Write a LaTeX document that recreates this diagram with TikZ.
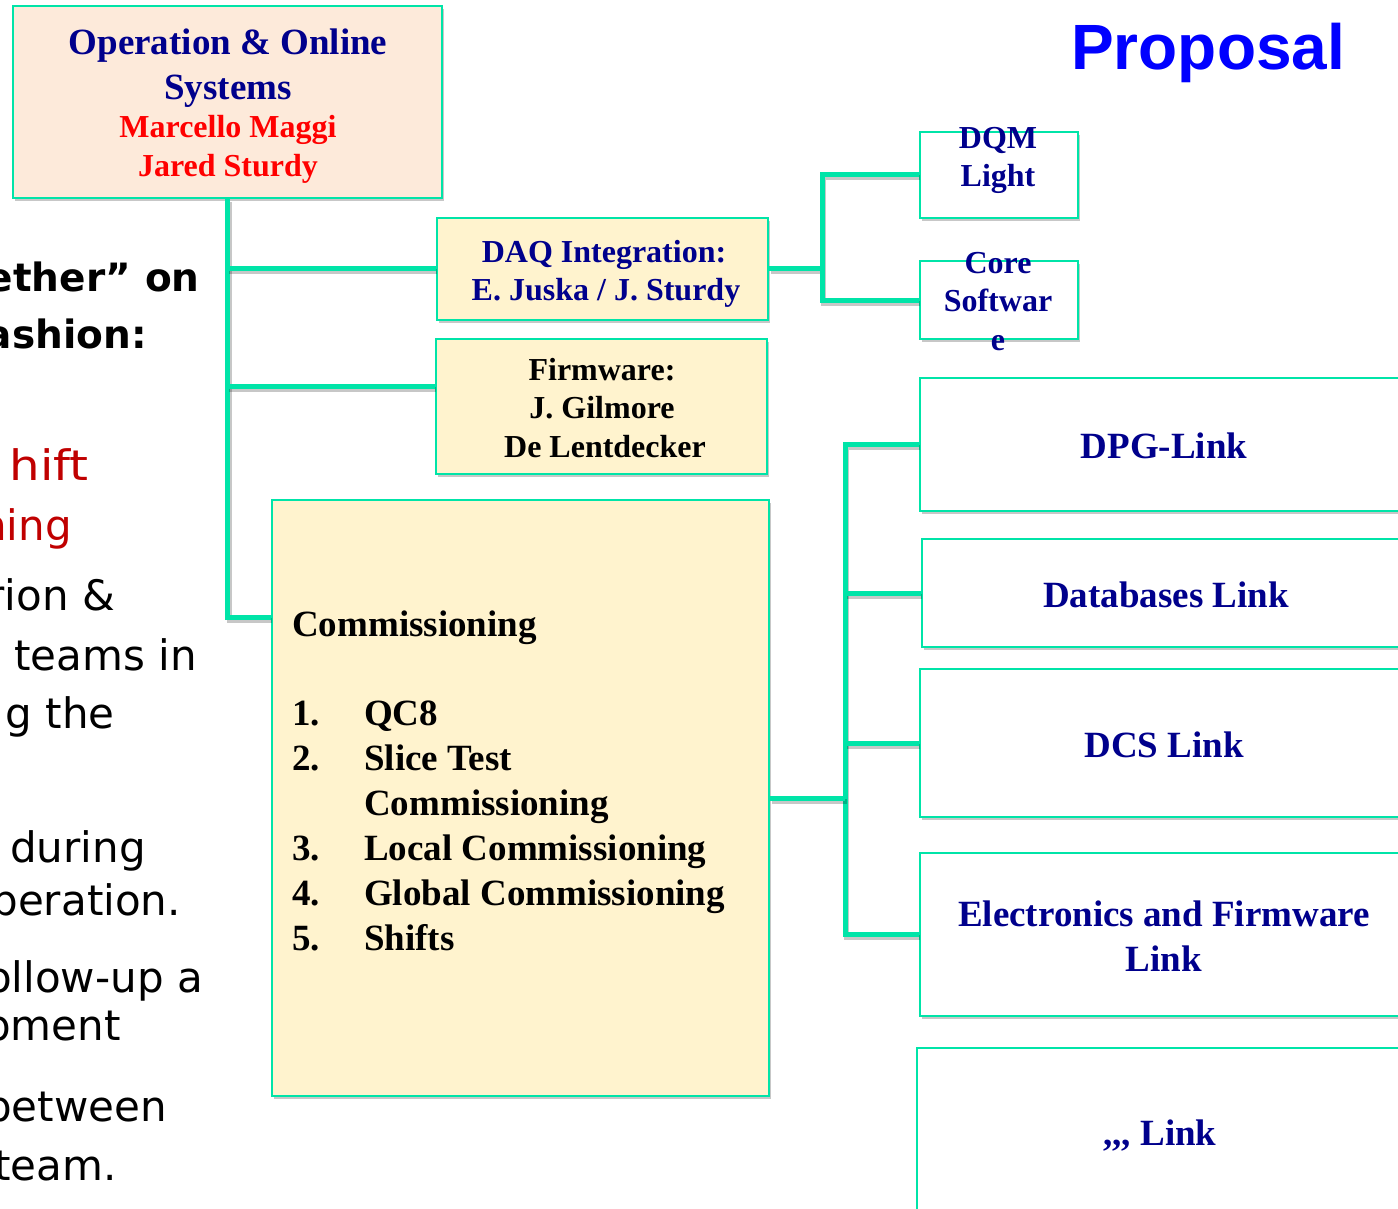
\documentclass[tikz,border=0pt]{standalone}
\usepackage{fontspec}
\setmainfont{Liberation Serif}
\newfontfamily\handfont{DejaVu Sans}
\newfontfamily\titlefont{Liberation Sans}
\usetikzlibrary{shadows,calc}
\definecolor{linec}{RGB}{0,228,168}
\definecolor{navy}{RGB}{0,0,140}
\definecolor{peach}{RGB}{253,234,218}
\definecolor{cream}{RGB}{255,243,206}
\definecolor{darkred}{RGB}{192,0,0}
\definecolor{pblue}{RGB}{0,0,255}
\tikzset{
  box/.style={draw=linec, line width=2.5pt, rectangle, inner sep=0pt,
    drop shadow={shadow xshift=2pt, shadow yshift=-3pt, opacity=0.22, fill=black}},
  conn/.style={draw=linec, line width=5pt,
    preaction={draw=black, opacity=0.22, line width=5pt,
      transform canvas={shift={(1.5pt,-3pt)}}}},
  lbl/.style={inner sep=0pt, anchor=base, font=\bfseries\fontsize{32}{38}\selectfont},
  big/.style={inner sep=0pt, anchor=base, font=\bfseries\fontsize{37}{44}\selectfont},
  bigl/.style={big, anchor=base west},
  hand/.style={inner sep=0pt, anchor=base east, font=\handfont\fontsize{42}{50}\selectfont},
  handb/.style={hand, font=\handfont\bfseries\fontsize{39}{50}\selectfont},
}
\begin{document}
\begin{tikzpicture}[x=1pt, y=-1pt]
\clip (0,0) rectangle (1398,1209);
\fill[white] (0,0) rectangle (1398,1209);

% slide text running in from the left
\node[handb] (h1) at (200,291) {ether” on};
\node[handb] (h2) at (147,348) {ashion:};
\node[hand, darkred] (h3) at (89,480) {\scalebox{1.15}[1]{hift}};
\node[hand, darkred] (h4) at (72,540) {ning};
\node[hand] (h5) at (115,610) {rion \&};
\node[hand] (h6) at (197,670) {teams in};
\node[hand] (h7) at (115,728) {g the};
\node[hand] (h8) at (146,862) {during};
\node[hand] (h9) at (181,915) {peration.};
\node[hand] (h10) at (203,992) {ollow-up a};
\node[hand] (h11) at (121,1040) {pment};
\node[hand] (h12) at (167,1121) {between};
\node[hand] (h13) at (117,1180) {team.};

% title
\node[inner sep=0pt, anchor=base west, text=pblue,
      font=\titlefont\bfseries\fontsize{64}{70}\selectfont] (title) at (1071,70) {Proposal};

% boxes
\node[box, fill=peach, minimum width=429pt, minimum height=192pt] (ops) at (227.5,102) {};
\node[box, fill=cream, minimum width=331pt, minimum height=102pt] (daq) at (602.5,269) {};
\node[box, fill=cream, minimum width=331pt, minimum height=135pt] (fw) at (601.5,406.5) {};
\node[box, fill=white, minimum width=158pt, minimum height=86pt] (dqm) at (999,175) {};
\node[box, fill=white, minimum width=158pt, minimum height=78pt] (core) at (999,300) {};
\node[box, fill=cream, minimum width=497pt, minimum height=596pt] (comm) at (520.5,798) {};
\node[box, fill=white, minimum width=488pt, minimum height=133pt] (dpg) at (1164,444.5) {};
\node[box, fill=white, minimum width=488pt, minimum height=108pt] (db) at (1166,593) {};
\node[box, fill=white, minimum width=488pt, minimum height=148pt] (dcs) at (1164,743) {};
\node[box, fill=white, minimum width=488pt, minimum height=163pt] (efl) at (1164,934.5) {};
\node[box, fill=white, minimum width=488pt, minimum height=182pt] (etc) at (1161,1139) {};

% connectors
\coordinate (commin) at ($(comm.north west)!0.198!(comm.south west)$);
\coordinate (fwin) at ($(fw.north west)!0.356!(fw.south west)$);
\coordinate (dbus) at (822,0);
\coordinate (lbus) at (845,0);
\draw[conn] (ops.south) |- (commin);
\draw[conn] (ops.south |- daq.west) -- (daq.west);
\draw[conn] (ops.south |- fwin) -- (fwin);
\draw[conn] (daq.east) -- (dbus |- daq.east);
\draw[conn] (dqm.west) -| (dbus |- core.west) -- (core.west);
\draw[conn] (dpg.west) -| (lbus |- efl.west) -- (efl.west);
\draw[conn] (db.west) -- (lbus |- db.west);
\draw[conn] (dcs.west) -- (lbus |- dcs.west);
\draw[conn] (comm.east) -- (lbus |- comm.east);

% box texts
\node[big, navy] (ops1) at (228,55) {Operation \& Online};
\node[big, navy] (ops2) at (228,100) {Systems};
\node[lbl, red] (ops3) at (228,138) {Marcello Maggi};
\node[lbl, red] (ops4) at (228,177) {Jared Sturdy};

\node[lbl, navy] (daq1) at (604,262) {DAQ Integration:};
\node[lbl, navy] (daq2) at (606,300) {E. Juska / J. Sturdy};

\node[lbl] (fw1) at (602,380) {Firmware:};
\node[lbl] (fw2) at (602,418) {J. Gilmore};
\node[lbl] (fw3) at (605,457) {De Lentdecker};

\node[lbl, navy] (dqm1) at (998,149) {DQM};
\node[lbl, navy] (dqm2) at (998,187) {Light};
\node[lbl, navy] (core1) at (998,273) {Core};
\node[lbl, navy] (core2) at (998,312) {Softwar};
\node[lbl, navy] (core3) at (998,350) {e};

\node[bigl] (c0) at (292,636) {Commissioning};
\node[bigl] (n1) at (292,725) {1.};
\node[bigl] (i1) at (364,725) {QC8};
\node[bigl] (n2) at (292,770) {2.};
\node[bigl] (i2) at (364,770) {Slice Test};
\node[bigl] (i2b) at (364,815) {Commissioning};
\node[bigl] (n3) at (292,860) {3.};
\node[bigl] (i3) at (364,860) {Local Commissioning};
\node[bigl] (n4) at (292,905) {4.};
\node[bigl] (i4) at (364,905) {Global Commissioning};
\node[bigl] (n5) at (292,950) {5.};
\node[bigl] (i5) at (364,950) {Shifts};

\node[big, navy] (dpg1) at (1164,458) {DPG-Link};
\node[big, navy] (db1) at (1166,607) {Databases Link};
\node[big, navy] (dcs1) at (1164,757) {DCS Link};
\node[big, navy] (efl1) at (1164,926) {Electronics and Firmware};
\node[big, navy] (efl2) at (1164,971) {Link};
\node[big, navy] (etc1) at (1160,1145) {{,}{,}{,} Link};
\end{tikzpicture}
\end{document}
